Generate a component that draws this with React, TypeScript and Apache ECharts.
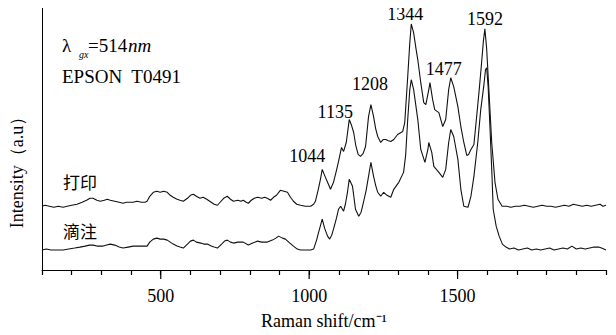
import React, { useEffect, useRef } from "react";
import * as echarts from "echarts";

// Raman shift (cm^-1) and intensity (a.u.) of the printed sample (打印)
const printShift = [100,110,125,140,155,171,185,200,218,235,250,262,272,285,296,310,320,330,345,360,373,385,397,407,420,435,447,454,463,475,487,498,510,522,532,542,555,565,576,590,600,610,620,632,643,655,670,680,691,700,712,724,735,745,760,770,778,788,795,805,815,826,840,850,859,870,880,890,903,915,927,937,947,958,971,988,1005,1015,1021,1030,1038,1044,1052,1062,1072,1082,1092,1099,1109,1116,1125,1135,1143,1150,1157,1165,1173,1182,1190,1200,1208,1217,1224,1231,1241,1250,1258,1265,1275,1285,1298,1315,1322,1332,1339,1344,1352,1360,1366,1376,1386,1393,1403,1407,1416,1423,1437,1450,1460,1470,1477,1487,1501,1511,1521,1531,1537,1545,1555,1561,1572,1580,1587,1592,1598,1606,1615,1626,1636,1650,1665,1680,1695,1710,1725,1740,1755,1770,1785,1800,1815,1830,1845,1860,1875,1890,1905,1920,1935,1950,1965,1980,1990,2000];
const printIntensity = [64,65,64,63,64,63,64,65,66,68,70,72,72,70,69,70,71,70,69,68,67,68,68,68,69,68,68,69,74,78,79,78,79,78,75,73,71,70,69,72,75,76,74,72,73,71,68,66,65,68,72,74,71,69,70,69,70,68,67,70,72,73,72,73,72,70,73,75,80,79,78,73,69,66,65,64,64,66,69,80,91,101,95,88,81,88,100,109,123,119,128,151,145,138,125,116,114,117,124,154,166,154,142,134,128,131,131,130,129,131,136,139,148,194,228,247,238,222,211,188,168,166,181,188,171,161,158,144,151,181,193,184,164,144,128,115,116,121,126,144,178,205,230,242,222,178,128,88,71,64,64,63,64,64,65,64,63,64,65,64,64,63,64,65,64,66,65,64,65,64,65,66,64,65];

// Raman shift (cm^-1) and intensity (a.u.) of the drop-cast sample (滴注)
const dropShift = [100,115,130,150,171,190,210,228,245,260,272,285,306,318,330,345,360,373,390,407,425,440,454,463,475,487,498,510,522,532,542,555,565,576,590,600,610,620,635,645,657,670,680,691,705,715,724,735,745,760,778,795,810,826,840,859,876,888,897,910,920,935,947,960,971,988,1005,1015,1025,1032,1044,1052,1062,1069,1076,1082,1092,1099,1106,1112,1116,1122,1129,1135,1146,1150,1156,1167,1175,1183,1192,1200,1208,1217,1224,1231,1241,1251,1262,1275,1285,1302,1318,1325,1332,1339,1344,1352,1366,1376,1390,1400,1403,1413,1420,1437,1450,1460,1470,1477,1487,1501,1511,1521,1535,1545,1555,1568,1578,1588,1594,1598,1603,1609,1616,1620,1630,1640,1651,1663,1675,1690,1705,1720,1735,1750,1765,1780,1795,1810,1825,1840,1855,1870,1885,1900,1915,1930,1945,1960,1975,1985,2000];
const dropIntensity = [20,21,20,20,20,21,22,23,24,25,25,24,24,25,26,25,23,22,23,24,24,24,24,28,31,32,31,31,30,28,26,24,23,22,26,29,30,28,27,26,26,24,23,22,26,29,30,28,27,28,28,25,27,29,28,28,30,32,34,32,31,27,24,21,20,20,20,21,30,38,51,42,34,31,35,41,52,61,64,61,59,66,78,91,84,75,61,54,58,68,80,94,108,94,85,78,74,78,75,73,81,88,98,115,151,181,191,181,151,121,108,121,128,118,104,98,93,101,128,141,134,111,81,64,63,74,94,128,161,184,201,203,184,144,94,61,44,34,26,23,21,22,20,21,22,20,21,20,21,22,20,21,22,21,24,21,22,21,22,23,23,22,20];

// Labelled peaks (on the printed spectrum)
const peakShifts = [1044, 1135, 1208, 1344, 1477, 1592];

// Axis tick labels
const xTickLabels = [500, 1000, 1500];

const SERIF = "serif";
const CJK = "Noto Sans CJK SC";
const labelOffsets: [number, number][] = [
  [-15, -13],
  [-14, -8],
  [-1, -21],
  [-6, -10],
  [-7, -9],
  [0, -10],
];

export default function App() {
  const ref = useRef<HTMLDivElement>(null);
  useEffect(() => {
    if (!ref.current) return;
    const chart = echarts.init(ref.current, undefined, { renderer: "svg" });
    const lineStyle = { color: "#111", width: 1.1 };
    chart.setOption({
      animation: false,
      backgroundColor: "#fff",
      textStyle: { fontFamily: SERIF },
      grid: { left: 42, right: 10, top: 4, bottom: 64, containLabel: false },
      xAxis: {
        type: "value",
        min: 100,
        max: 2000,
        interval: 100,
        name: "Raman shift/cm\u207B\u00B9",
        nameLocation: "middle",
        nameGap: 42,
        nameTextStyle: { fontFamily: SERIF, fontSize: 18, color: "#000" },
        axisLine: { show: true, onZero: false, lineStyle: { color: "#000", width: 1 } },
        axisTick: { show: true, inside: false, length: 5, lineStyle: { color: "#000", width: 1.2 } },
        axisLabel: {
          formatter: (v: number) => (xTickLabels.includes(v) ? String(v) : ""),
          fontFamily: SERIF,
          fontSize: 18,
          color: "#000",
          margin: 17,
        },
        splitLine: { show: false },
      },
      yAxis: {
        type: "value",
        min: 0,
        max: 267,
        axisLine: { show: true, onZero: false, lineStyle: { color: "#000", width: 1 } },
        axisTick: { show: false },
        axisLabel: { show: false },
        splitLine: { show: false },
      },
      series: [
        {
          name: "打印",
          type: "line",
          clip: false,
          showSymbol: false,
          symbol: "none",
          lineStyle,
          data: printShift.map((x, i) => [x, printIntensity[i]]),
          markPoint: {
            symbol: "circle",
            symbolSize: 0,
            silent: true,
            label: {
              show: true,
              position: "inside",
              fontFamily: SERIF,
              fontSize: 18,
              color: "#000",
            },
            data: peakShifts.map((p, i) => ({
              name: String(p),
              coord: [p, printIntensity[printShift.indexOf(p)]],
              label: { offset: labelOffsets[i], formatter: String(p) },
            })),
          },
        },
        {
          name: "滴注",
          type: "line",
          clip: false,
          showSymbol: false,
          symbol: "none",
          lineStyle,
          data: dropShift.map((x, i) => [x, dropIntensity[i]]),
        },
        {
          name: "majorTicks",
          type: "custom",
          clip: false,
          silent: true,
          z: 10,
          data: xTickLabels.map((v) => [v, 0]),
          renderItem: (params: any, api: any) => {
            const p = api.coord([api.value(0), api.value(1)]);
            return {
              type: "line",
              shape: { x1: p[0], y1: p[1], x2: p[0], y2: p[1] + 9 },
              style: { stroke: "#000", lineWidth: 1.2 },
            };
          },
        },
      ],
      graphic: [
        {
          type: "text",
          x: 62,
          y: 45,
          style: { text: "λ", fontFamily: SERIF, fontSize: 19, fill: "#000", verticalAlign: "middle" },
        },
        {
          type: "text",
          x: 79,
          y: 54,
          style: { text: "gx", fontFamily: SERIF, fontStyle: "italic", fontSize: 10, fill: "#000", verticalAlign: "middle" },
        },
        {
          type: "text",
          x: 88,
          y: 45,
          style: { text: "=514", fontFamily: SERIF, fontSize: 19, fill: "#000", verticalAlign: "middle" },
        },
        {
          type: "text",
          x: 128,
          y: 45,
          style: { text: "nm", fontFamily: SERIF, fontStyle: "italic", fontSize: 19, fill: "#000", verticalAlign: "middle" },
        },
        {
          type: "text",
          x: 62,
          y: 76,
          style: { text: "EPSON  T0491", fontFamily: SERIF, fontSize: 19, fill: "#000", verticalAlign: "middle" },
        },
        {
          type: "text",
          x: 63,
          y: 181,
          style: { text: "打印", fontFamily: CJK, fontSize: 17, fill: "#000", verticalAlign: "middle" },
        },
        {
          type: "text",
          x: 63,
          y: 230,
          style: { text: "滴注", fontFamily: CJK, fontSize: 17, fill: "#000", verticalAlign: "middle" },
        },
        {
          type: "text",
          x: 17,
          y: 168,
          rotation: Math.PI / 2,
          style: {
            text: "Intensity（a.u）",
            fontFamily: SERIF,
            fontSize: 18,
            fill: "#000",
            align: "center",
            verticalAlign: "middle",
          },
        },
      ],
    });
    return () => chart.dispose();
  }, []);
  return <div ref={ref} style={{ width: 616, height: 335, margin: -8 }} />;
}
